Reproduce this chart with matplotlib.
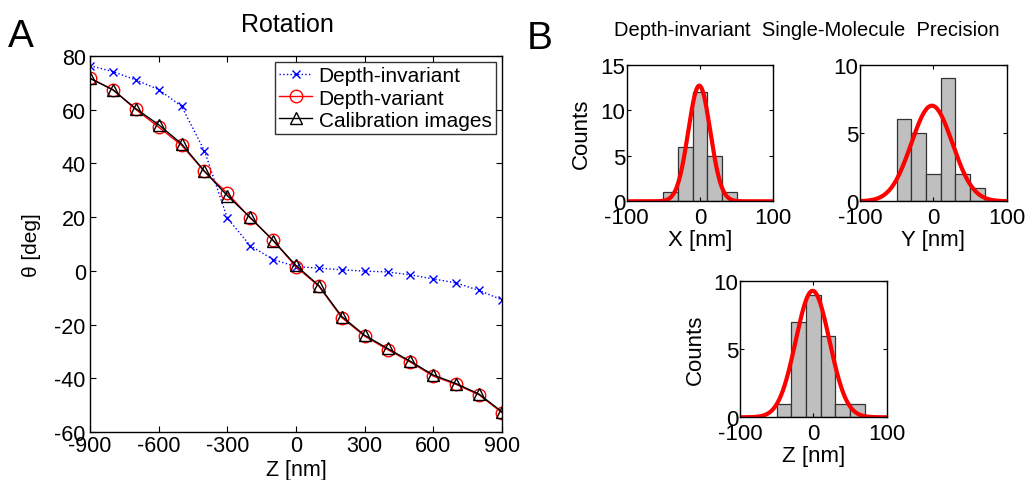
import matplotlib
matplotlib.use("Agg")
import matplotlib.pyplot as plt
import numpy as np

plt.rcParams['font.family'] = ['Liberation Sans', 'DejaVu Sans']
plt.rcParams['axes.unicode_minus'] = False

# panel A: rotation angle vs depth
z_nm = [-900, -800, -700, -600, -500, -400, -300, -200, -100, 0,
        100, 200, 300, 400, 500, 600, 700, 800, 900]
theta_invariant = [76.4, 74.2, 71.1, 67.5, 61.3, 44.7, 19.6, 9.4, 4.2, 1.6,
                   1.0, 0.4, -0.1, -0.4, -1.5, -3.0, -4.5, -7.3, -10.8]
theta_variant = [71.7, 67.5, 60.1, 53.5, 46.8, 37.0, 28.9, 19.7, 11.4, 1.5,
                 -5.7, -17.4, -24.3, -29.3, -34.0, -39.2, -42.3, -46.2, -52.8]
theta_calib = [71.7, 67.4, 60.4, 54.4, 47.3, 37.1, 28.0, 19.9, 11.3, 2.0,
               -5.5, -17.0, -24.0, -28.9, -33.7, -38.8, -42.0, -45.9, -52.5]

# panel B: histograms (bin edges, counts) and gaussian fit (mu, sigma, peak)
x_edges = [-50, -30, -10, 10, 30, 50]
x_counts = [1, 6, 12, 5, 1]
x_fit = (-1, 15, 12.7)

y_edges = [-50, -30, -10, 10, 30, 50, 70]
y_counts = [6, 5, 2, 9, 2, 1]
y_fit = (-2, 28, 7.0)

z_edges = [-50, -30, -10, 10, 30, 50, 70]
z_counts = [1, 7, 9, 6, 1, 1]
z_fit = (-1, 23, 9.3)

W, H = 1027, 481
fig = plt.figure(figsize=(W / 100, H / 100), dpi=100)


def box(l, t, r, b):
    # pixel box -> figure fraction
    return [l / W, 1 - b / H, (r - l) / W, (b - t) / H]


def matlab_ticks(ax, size):
    ax.tick_params(direction='in', top=True, right=True, labelsize=size,
                   length=4, width=0.8, pad=3)
    for s in ax.spines.values():
        s.set_linewidth(1.0)


# ---------------- panel A ----------------
ax = fig.add_axes(box(90, 57, 502, 433))
ax.plot(z_nm, theta_invariant, ':', color='blue', marker='x', ms=6,
        lw=1.0, label='Depth-invariant')
ax.plot(z_nm, theta_variant, '-', color='red', marker='o', ms=9,
        mfc='none', lw=1.0, label='Depth-variant')
ax.plot(z_nm, theta_calib, '-', color='black', marker='^', ms=8,
        mfc='none', lw=1.0, label='Calibration images')
ax.set_xlim(-900, 900)
ax.set_ylim(-60, 80)
ax.set_xticks(range(-900, 901, 300))
ax.set_yticks(range(-60, 81, 20))
matlab_ticks(ax, 15.5)
ax.tick_params(axis='x', pad=2)
ax.set_xlabel('Z [nm]', fontsize=15.5, labelpad=2)
ax.set_ylabel('θ [deg]', fontsize=15, labelpad=10)
leg = ax.legend(loc='upper right', fontsize=15, frameon=True, fancybox=False,
                handlelength=1.6, handletextpad=0.3, borderpad=0.2,
                labelspacing=0.15, borderaxespad=0.3)
leg.get_frame().set_edgecolor('black')
leg.get_frame().set_linewidth(1.0)

fig.text(287 / W, 1 - 25 / H, 'Rotation', fontsize=18, ha='center', va='center')
fig.text(8 / W, 1 - 37 / H, 'A', fontsize=28, ha='left', va='center')
fig.text(527 / W, 1 - 39 / H, 'B', fontsize=28, ha='left', va='center')
fig.text(807 / W, 1 - 30 / H, 'Depth-invariant  Single-Molecule  Precision',
         fontsize=14.5, ha='center', va='center')


def hist_panel(rect, edges, counts, fit, ymax, yt, xlabel, counts_label):
    a = fig.add_axes(rect)
    edges = np.array(edges)
    a.bar(edges[:-1], counts, width=np.diff(edges), align='edge',
          color='#bfbfbf', edgecolor='#333333', linewidth=0.9)
    xs = np.linspace(-100, 100, 400)
    mu, sig, pk = fit
    a.plot(xs, pk * np.exp(-(xs - mu) ** 2 / (2 * sig ** 2)), color='red', lw=3)
    a.set_xlim(-100, 100)
    a.set_ylim(0, ymax)
    a.set_xticks([-100, 0, 100])
    a.set_yticks(yt)
    matlab_ticks(a, 16)
    a.tick_params(length=3)
    a.tick_params(axis='x', pad=4)
    a.tick_params(axis='y', pad=1)
    a.set_xlabel(xlabel, fontsize=16, labelpad=1)
    if counts_label:
        a.set_ylabel('Counts', fontsize=16, labelpad=6)
    return a


hist_panel(box(626.7, 65.7, 773.3, 202.3), x_edges, x_counts, x_fit,
           15, [0, 5, 10, 15], 'X [nm]', True)
hist_panel(box(860, 65.7, 1006.7, 202.3), y_edges, y_counts, y_fit,
           10, [0, 5, 10], 'Y [nm]', False)
hist_panel(box(740, 282.3, 886.7, 418.3), z_edges, z_counts, z_fit,
           10, [0, 5, 10], 'Z [nm]', True)

fig.savefig('out.png', dpi=100)
